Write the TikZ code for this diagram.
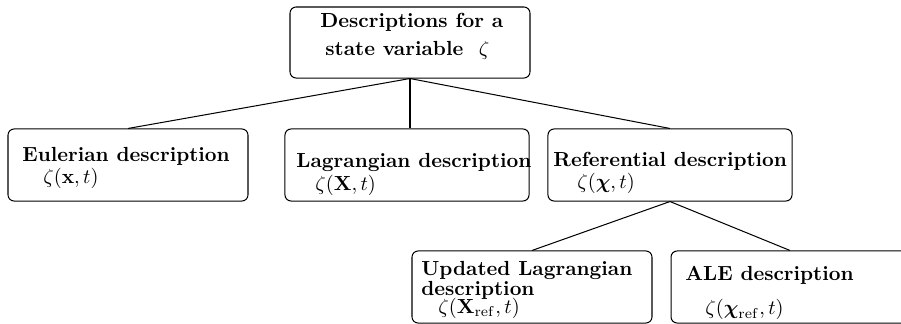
\documentclass[tikz,border=0pt]{standalone}
\usepackage{amsmath}
\begin{document}
\begin{tikzpicture}[x=0.49pt,y=-0.49pt,
  box/.style={draw, line width=0.5pt, rounded corners=3pt, inner sep=0pt},
  lbl/.style={anchor=base west, inner sep=0pt, font=\bfseries},
  mth/.style={anchor=base west, inner sep=0pt},
  link/.style={line width=0.5pt}]
\clip (0,0) rectangle (901,324);

% boxes
\node[box, minimum width=117.6pt, minimum height=34.8pt] (top) at (410,42.5) {};
\node[box, minimum width=117.6pt, minimum height=35.3pt] (eul) at (128,165) {};
\node[box, minimum width=119.6pt, minimum height=35.3pt] (lag) at (407,165) {};
\node[box, minimum width=119.6pt, minimum height=35.3pt] (ref) at (670,165) {};
\node[box, minimum width=117.6pt, minimum height=35.3pt] (upd) at (532,287) {};
\node[box, minimum width=116.6pt, minimum height=35.3pt] (ale) at (790,287) {};

% labels
\node[lbl] (t1) at (320,27) {Descriptions for a};
\node[lbl] (t2) at (325,55) {state variable \ $\zeta$};

\node[lbl] (e1) at (22,161) {Eulerian description};
\node[mth] (e2) at (43,183) {$\zeta(\mathbf{x},t)$};

\node[lbl] (l1) at (296,167) {Lagrangian description};
\node[mth] (l2) at (315,190) {$\zeta(\mathbf{X},t)$};

\node[lbl] (r1) at (553,166) {Referential description};
\node[mth] (r2) at (577,188) {$\zeta(\boldsymbol{\chi},t)$};

\node[lbl] (u1) at (421,275) {Updated Lagrangian};
\node[lbl] (u2) at (421,295) {description};
\node[mth] (u3) at (438,313) {$\zeta(\mathbf{X}_{\mathrm{ref}},t)$};

\node[lbl] (a1) at (685,280) {ALE description};
\node[mth] (a2) at (705,314) {$\zeta(\boldsymbol{\chi}_{\mathrm{ref}},t)$};

% connectors
\draw[link] (top.south) -- (eul.north);
\draw[link] (top.south) -- (top.south |- lag.north);
\draw[link] (top.south) -- (ref.north);
\draw[link] (ref.south) -- (upd.north);
\draw[link] (ref.south) -- (ale.north);
\end{tikzpicture}
\end{document}
